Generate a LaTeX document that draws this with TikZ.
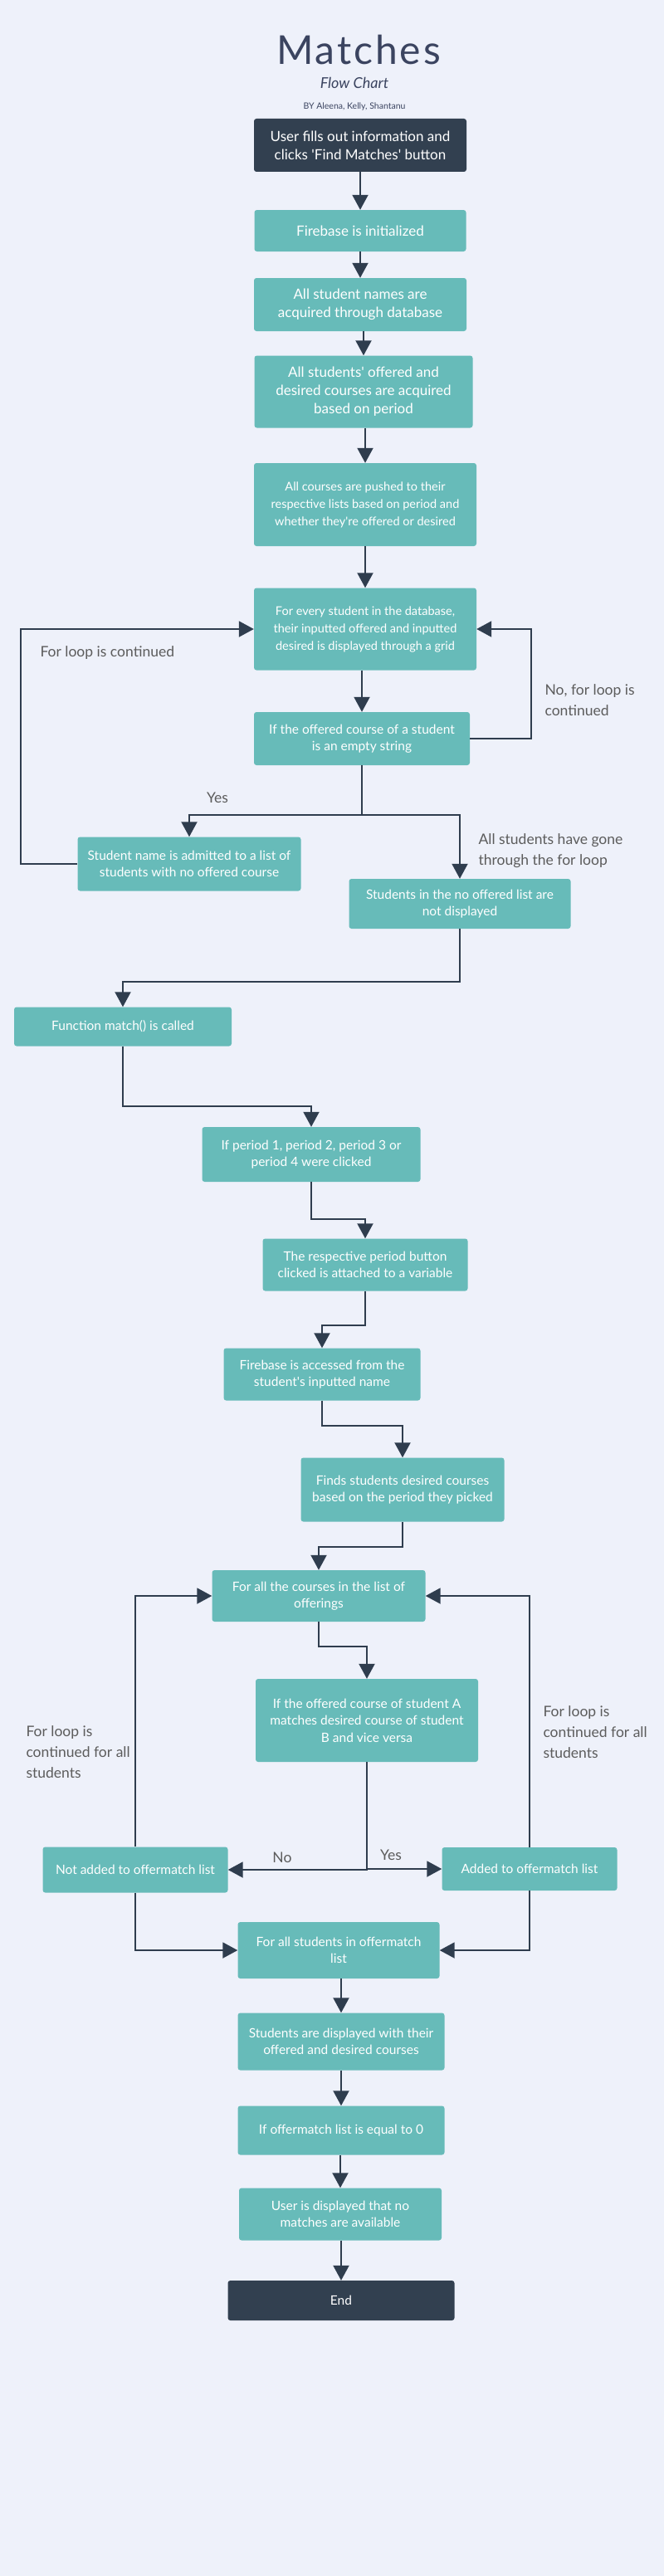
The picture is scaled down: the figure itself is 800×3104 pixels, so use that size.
\documentclass[tikz,border=0pt]{standalone}
\usepackage{fontspec}
\setmainfont{Lato}
\usetikzlibrary{arrows.meta}
\definecolor{bgc}{HTML}{EEF1FA}
\definecolor{tealbox}{HTML}{67BBB9}
\definecolor{slate}{HTML}{324050}
\definecolor{ink}{HTML}{2F3D4E}
\definecolor{note}{HTML}{5C5C5C}
\definecolor{titlec}{HTML}{3B4460}

\begin{document}
\begin{tikzpicture}[x=1pt,y=1pt,
    flowbox/.style={rectangle,rounded corners=3pt,fill=tealbox,text=white,align=center,
      inner sep=0pt,font=\fontsize{15.5}{20.5}\selectfont},
    darkbox/.style={flowbox,fill=slate},
    big/.style={font=\fontsize{17}{22}\selectfont},
    small/.style={font=\fontsize{14.5}{21}\selectfont},
    wire/.style={draw=ink,line width=2pt},
    flow/.style={wire,-{Triangle[length=18pt,width=19pt]}},
    lbl/.style={text=note,align=left,anchor=west,font=\fontsize{17.5}{25}\selectfont}]
  % page background
  \fill[bgc] (0,0) rectangle (800,-3104);
  % heading
  \node[anchor=base,font=\fontsize{48}{56}\selectfont\addfontfeature{LetterSpace=6},text=titlec]
    (title) at (432,-78) {Matches};
  \node[anchor=base,font=\fontsize{18}{22}\selectfont\itshape,text=titlec] (sub) at (427,-107) {Flow Chart};
  \node[anchor=base,font=\fontsize{10.5}{12}\selectfont,text=titlec] (by) at (427,-132) {BY Aleena, Kelly, Shantanu};
  % first part: reading the database
  \node[darkbox,big,minimum width=256pt,minimum height=64pt] (start) at (434,-175)
    {User fills out information and\\clicks \textquotesingle Find Matches\textquotesingle\ button};
  \node[flowbox,big,minimum width=255pt,minimum height=50pt] (fbinit) at (434,-278) {Firebase is initialized};
  \node[flowbox,big,minimum width=256pt,minimum height=64pt] (names) at (434,-367)
    {All student names are\\acquired through database};
  \node[flowbox,big,minimum width=263pt,minimum height=87pt] (courses) at (438,-472)
    {All students\textquotesingle\ offered and\\desired courses are acquired\\based on period};
  \node[flowbox,small,minimum width=268pt,minimum height=100pt] (push) at (440,-608)
    {All courses are pushed to their\\respective lists based on period and\\whether they\textquotesingle re offered or desired};
  \node[flowbox,small,minimum width=268pt,minimum height=99pt] (grid) at (440,-758)
    {For every student in the database,\\their inputted offered and inputted\\desired is displayed through a grid};
  \node[flowbox,minimum width=260pt,minimum height=64pt] (empty) at (436,-890)
    {If the offered course of a student\\is an empty string};
  \node[flowbox,minimum width=269pt,minimum height=65pt] (admit) at (228,-1041)
    {Student name is admitted to a list of\\students with no offered course};
  \node[flowbox,minimum width=267pt,minimum height=60pt] (hide) at (554,-1089)
    {Students in the no offered list are\\not displayed};
  % second part: match()
  \node[flowbox,minimum width=262pt,minimum height=47pt] (match) at (148,-1237) {Function match() is called};
  \node[flowbox,minimum width=263pt,minimum height=66pt] (period) at (375,-1391)
    {If period 1, period 2, period 3 or\\period 4 were clicked};
  \node[flowbox,minimum width=247pt,minimum height=63pt] (button) at (440,-1524)
    {The respective period button\\clicked is attached to a variable};
  \node[flowbox,minimum width=237pt,minimum height=63pt] (access) at (388,-1656)
    {Firebase is accessed from the\\student\textquotesingle s inputted name};
  \node[flowbox,minimum width=245pt,minimum height=77pt] (finds) at (485,-1795)
    {Finds students desired courses\\based on the period they picked};
  \node[flowbox,minimum width=257pt,minimum height=62pt] (offers) at (384,-1923)
    {For all the courses in the list of\\offerings};
  \node[flowbox,minimum width=268pt,minimum height=100pt] (check) at (442,-2073)
    {If the offered course of student A\\matches desired course of student\\B and vice versa};
  \node[flowbox,minimum width=223pt,minimum height=55pt] (notadd) at (163,-2253) {Not added to offermatch list};
  \node[flowbox,minimum width=211pt,minimum height=52pt] (added) at (638,-2252) {Added to offermatch list};
  \node[flowbox,minimum width=243pt,minimum height=68pt] (omlist) at (408,-2350)
    {For all students in offermatch\\list};
  \node[flowbox,minimum width=249pt,minimum height=69pt] (shown) at (411,-2460)
    {Students are displayed with their\\offered and desired courses};
  \node[flowbox,minimum width=249pt,minimum height=59pt] (zero) at (411,-2567) {If offermatch list is equal to 0};
  \node[flowbox,minimum width=244pt,minimum height=63pt] (nomatch) at (410,-2668)
    {User is displayed that no\\matches are available};
  \node[darkbox,minimum width=273pt,minimum height=48pt] (stop) at (411,-2772) {End};
  % straight arrows
  \foreach \a/\b in {start/fbinit,fbinit/names,names/courses,courses/push,push/grid,grid/empty,
      omlist/shown,shown/zero,zero/nomatch,nomatch/stop}
    \draw[flow] (\b.north |- \a.south) -- (\b.north);
  % stepped arrows
  \foreach \a/\b/\d in {hide/match/64,match/period/72,period/button/45,button/access/41,
      access/finds/30,finds/offers/30,offers/check/30}
    \draw[flow] (\a.south) -- ++(0,-\d) -| (\b.north);
  % first loop
  \coordinate (fork) at (436,-982);
  \draw[wire] (empty.south) -- (fork);
  \draw[flow] (fork) -| (admit.north);
  \draw[flow] (fork) -| (hide.north);
  \draw[flow] (empty.east) -- ++(74,0) |- (grid.east);
  \draw[flow] (admit.west) -- ++(-68,0) |- (grid.west);
  % second loop
  \draw[flow] (check.south) |- (notadd.east);
  \draw[flow] (check.south) |- (added.west);
  \draw[flow] (notadd.north) |- (offers.west);
  \draw[flow] (added.north) |- (offers.east);
  \draw[flow] (notadd.south) |- (omlist.west);
  \draw[flow] (added.south) |- (omlist.east);
  % labels
  \node[lbl] (cont) at (45,-787) {For loop is continued};
  \node[lbl] (nocont) at (653,-844) {No, for loop is\\continued};
  \node[lbl,anchor=center] (yes1) at (262,-961) {Yes};
  \node[lbl] (done) at (573,-1025) {All students have gone\\through the for loop};
  \node[lbl,anchor=center] (no2) at (340,-2238) {No};
  \node[lbl,anchor=center] (yes2) at (471,-2235) {Yes};
  \node[lbl] (leftcont) at (28,-2111) {For loop is\\continued for all\\students};
  \node[lbl] (rightcont) at (651,-2087) {For loop is\\continued for all\\students};
\end{tikzpicture}
\end{document}
